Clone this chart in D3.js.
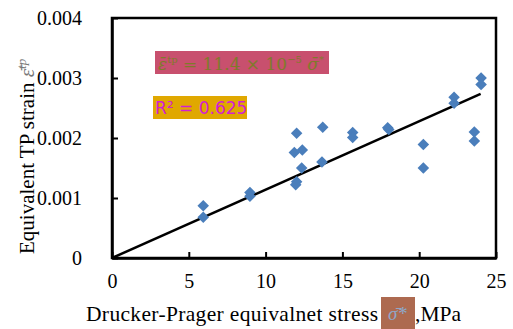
<!DOCTYPE html>
<html>
<head>
<meta charset="utf-8">
<script src="https://cdn.jsdelivr.net/npm/d3@7"></script>
<style>
  body { margin: 0; background: #fff; }
  svg { display: block; }
  text { font-family: "Liberation Serif", "DejaVu Serif", serif; }
</style>
</head>
<body>
<svg id="chart" width="513" height="329"></svg>
<script>
// DP equivalent stress (MPa) vs equivalent TP strain
const stress = [5.94, 5.94, 8.98, 8.98, 12.02, 11.87, 12.39, 12.35, 12.02, 11.96,
  13.72, 13.67, 15.67, 15.67, 17.95, 18.02, 20.27, 20.27, 22.27, 22.27, 23.59, 23.59, 24.03, 24.03];
const strain = [0.00087, 0.00068, 0.00109, 0.00103, 0.00208, 0.00176, 0.0018, 0.0015, 0.00127, 0.00122,
  0.00218, 0.0016, 0.00209, 0.00201, 0.00217, 0.00214, 0.00189, 0.0015, 0.00268, 0.00258, 0.0021, 0.00195, 0.003, 0.00289];
const xTicks = [0, 5, 10, 15, 20, 25];
const yTicks = [0, 0.001, 0.002, 0.003, 0.004];
const slope = 11.4e-5;
const fitRange = [0, 24];

const svg = d3.select("#chart");
const x = d3.scaleLinear().domain([0, 25]).range([112, 496]);
const y = d3.scaleLinear().domain([0, 0.004]).range([258, 18]);

// plot border
svg.append("rect")
  .attr("x", x(0)).attr("y", y(0.004))
  .attr("width", x(25) - x(0)).attr("height", y(0) - y(0.004))
  .attr("fill", "none").attr("stroke", "#000").attr("stroke-width", 2.5);

// axes with inward ticks
const xAxis = svg.append("g")
  .attr("transform", `translate(0,${y(0)})`)
  .call(d3.axisBottom(x).tickValues(xTicks).tickSizeInner(-6).tickSizeOuter(0).tickPadding(16));
const yAxis = svg.append("g")
  .attr("transform", `translate(${x(0)},0)`)
  .call(d3.axisLeft(y).tickValues(yTicks).tickSizeInner(-6).tickSizeOuter(0).tickPadding(30)
    .tickFormat(d => d === 0 ? "0" : d3.format(".3f")(d)));
[xAxis, yAxis].forEach(g => {
  g.attr("font-family", null).attr("font-size", null);
  g.select(".domain").attr("stroke", "#000").attr("stroke-width", 2.5);
  g.selectAll(".tick line").attr("stroke", "#000").attr("stroke-width", 2);
  g.selectAll(".tick text").style("font-size", "20px").attr("fill", "#000");
});
yAxis.selectAll(".tick text").attr("dy", "0.32em");

// fit line
svg.append("line")
  .attr("x1", x(fitRange[0])).attr("y1", y(slope * fitRange[0]))
  .attr("x2", x(fitRange[1])).attr("y2", y(slope * fitRange[1]))
  .attr("stroke", "#000").attr("stroke-width", 2.5);

// markers
const diamond = d3.symbol().type(d3.symbolDiamond2).size(85);
svg.selectAll(".pt")
  .data(stress.map((s, i) => [s, strain[i]]))
  .enter().append("path")
  .attr("class", "pt")
  .attr("d", diamond)
  .attr("transform", d => `translate(${x(d[0])},${y(d[1])})`)
  .attr("fill", "#4a7ebb");

// equation box
svg.append("rect").attr("x", 155).attr("y", 51).attr("width", 174).attr("height", 23).attr("fill", "#c8506e");
const eq = svg.append("text").attr("x", 158).attr("y", 70)
  .style("font-family", "'DejaVu Serif', serif").style("font-size", "17px").attr("fill", "#7f7a2a");
eq.append("tspan").attr("font-style", "italic").text("ε̄");
eq.append("tspan").attr("dy", -7).style("font-size", "10px").text("tp");
eq.append("tspan").attr("dy", 7).text(" = 11.4 × 10");
eq.append("tspan").attr("dy", -7).style("font-size", "10px").text("−5");
eq.append("tspan").attr("dy", 7).attr("font-style", "italic").text(" σ̄");
eq.append("tspan").attr("dy", -7).style("font-size", "10px").text("*");

// R² box
svg.append("rect").attr("x", 153).attr("y", 96).attr("width", 94).attr("height", 23).attr("fill", "#e0a800");
svg.append("text").attr("x", 155).attr("y", 114)
  .style("font-family", "'DejaVu Sans', sans-serif").style("font-size", "17px").attr("fill", "#d21fd2")
  .text("R² = 0.625");

// y label
const yl = svg.append("text")
  .attr("transform", "translate(34,254) rotate(-90)")
  .style("font-size", "21px").attr("fill", "#000");
yl.append("tspan").text("Equivalent TP strain ");
yl.append("tspan").attr("font-style", "italic").attr("fill", "#777").text("ε̄");
yl.append("tspan").attr("dy", -8).style("font-size", "13px").attr("font-style", "italic").attr("fill", "#777").text("tp");

// x label
svg.append("text").attr("x", 86).attr("y", 321).style("font-size", "21.5px").attr("fill", "#000")
  .attr("textLength", 292).text("Drucker-Prager equivalnet stress");
svg.append("rect").attr("x", 381).attr("y", 297).attr("width", 34).attr("height", 32).attr("fill", "#ad6a50");
svg.append("text").attr("x", 388).attr("y", 320).style("font-size", "19px").attr("font-style", "italic")
  .attr("fill", "#8fa8c8").text("σ̄*");
svg.append("text").attr("x", 415).attr("y", 321).style("font-size", "21.5px").attr("fill", "#000").text(",MPa");
</script>
</body>
</html>
